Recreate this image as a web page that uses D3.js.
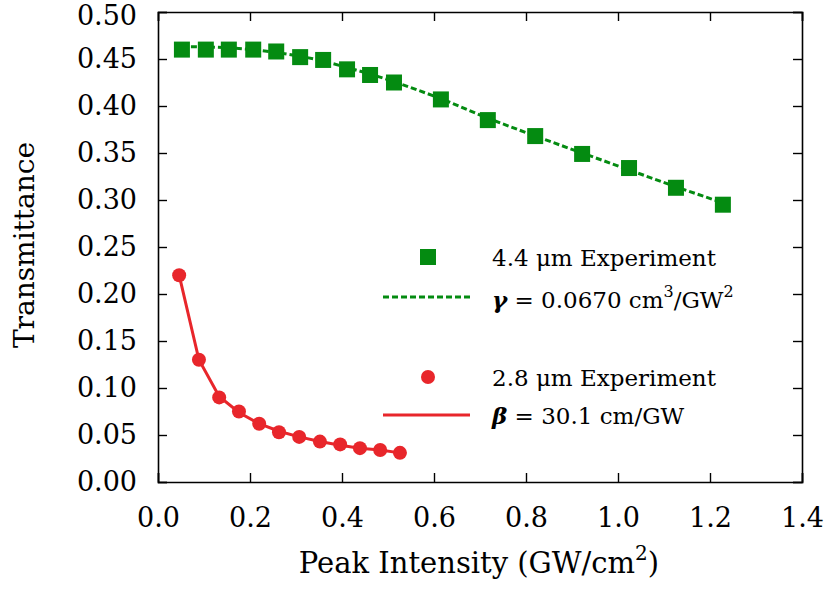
<!DOCTYPE html>
<html>
<head>
<meta charset="utf-8">
<script src="https://cdn.jsdelivr.net/npm/d3@7"></script>
<style>
  body { margin: 0; background: #fff; }
  svg text { font-family: "DejaVu Serif", "Liberation Serif", serif; fill: #000; }
</style>
</head>
<body>
<svg id="chart" width="827" height="590"></svg>
<script>
// 4.4 um experiment (green squares) and its 3PA fit
const greenX = [0.052, 0.104, 0.154, 0.207, 0.257, 0.309, 0.359, 0.411, 0.461, 0.513, 0.615, 0.717, 0.820, 0.922, 1.024, 1.126, 1.228];
const greenY = [0.460, 0.460, 0.460, 0.460, 0.458, 0.452, 0.449, 0.439, 0.433, 0.425, 0.407, 0.385, 0.368, 0.349, 0.334, 0.313, 0.295];
const greenFitY = [0.463, 0.463, 0.462, 0.460, 0.457, 0.453, 0.448, 0.441, 0.434, 0.426, 0.408, 0.387, 0.368, 0.350, 0.332, 0.314, 0.297];

// 2.8 um experiment (red circles) and its 2PA fit
const redX = [0.046, 0.089, 0.133, 0.176, 0.220, 0.263, 0.307, 0.352, 0.396, 0.439, 0.483, 0.526];
const redY = [0.220, 0.130, 0.090, 0.075, 0.062, 0.053, 0.048, 0.043, 0.040, 0.036, 0.034, 0.031];
const redFitY = [0.220, 0.130, 0.091, 0.074, 0.062, 0.054, 0.048, 0.043, 0.039, 0.036, 0.034, 0.031];

const xTicks = [0, 0.2, 0.4, 0.6, 0.8, 1.0, 1.2, 1.4];
const yTicks = [0, 0.05, 0.10, 0.15, 0.20, 0.25, 0.30, 0.35, 0.40, 0.45, 0.50];

const green = "#048b11";
const red = "#e8262b";
const serif = '"DejaVu Serif", "Liberation Serif", serif';

const mLeft = 158, mRight = 802, mTop = 12, mBottom = 482;
const svg = d3.select("#chart");

const x = d3.scaleLinear().domain([0, 1.4]).range([mLeft, mRight]);
const y = d3.scaleLinear().domain([0, 0.5]).range([mBottom, mTop]);

// axes: ticks point inward on all four sides
const tick = 9;
svg.append("g")
  .attr("transform", "translate(0," + mBottom + ")")
  .call(d3.axisBottom(x).tickValues(xTicks).tickFormat(d3.format(".1f")).tickSize(-tick).tickPadding(26));
svg.append("g")
  .attr("transform", "translate(0," + mTop + ")")
  .call(d3.axisTop(x).tickValues(xTicks).tickFormat("").tickSize(-tick));
const yAxis = svg.append("g")
  .attr("transform", "translate(" + mLeft + ",0)")
  .call(d3.axisLeft(y).tickValues(yTicks).tickFormat(d3.format(".2f")).tickSize(-tick).tickPadding(21));
svg.append("g")
  .attr("transform", "translate(" + mRight + ",0)")
  .call(d3.axisRight(y).tickValues(yTicks).tickFormat("").tickSize(-tick));

svg.selectAll("g").attr("font-family", serif);
svg.selectAll(".domain").attr("stroke", "#000").attr("stroke-width", 1.6);
svg.selectAll(".tick line").attr("stroke", "#000").attr("stroke-width", 1.4);
svg.selectAll(".tick text").style("font-size", "27px").style("font-family", serif);
// top label sits a little lower so it stays inside the page
yAxis.selectAll(".tick text").filter(d => d === 0.5).attr("dy", "0.48em");

// fit lines
const line = d3.line().x(d => x(d[0])).y(d => y(d[1]));
svg.append("path")
  .datum(greenX.map((v, i) => [v, greenFitY[i]]))
  .attr("d", line)
  .attr("fill", "none").attr("stroke", green).attr("stroke-width", 3)
  .attr("stroke-dasharray", "6,3");
svg.append("path")
  .datum(redX.map((v, i) => [v, redFitY[i]]))
  .attr("d", line)
  .attr("fill", "none").attr("stroke", red).attr("stroke-width", 3);

// data points
const sq = 16;
svg.append("g").selectAll("rect")
  .data(greenX.map((v, i) => [v, greenY[i]]))
  .enter().append("rect")
  .attr("x", d => x(d[0]) - sq / 2)
  .attr("y", d => y(d[1]) - sq / 2)
  .attr("width", sq).attr("height", sq)
  .attr("fill", green);
svg.append("g").selectAll("circle")
  .data(redX.map((v, i) => [v, redY[i]]))
  .enter().append("circle")
  .attr("cx", d => x(d[0]))
  .attr("cy", d => y(d[1]))
  .attr("r", 7)
  .attr("fill", red);

// legend
const lg = svg.append("g").style("font-size", "23px").style("font-family", serif);
lg.append("rect").attr("x", 428 - sq / 2).attr("y", 257 - sq / 2).attr("width", sq).attr("height", sq).attr("fill", green);
lg.append("text").attr("x", 492).attr("y", 266).text("4.4 μm Experiment");
lg.append("line").attr("x1", 383).attr("x2", 470).attr("y1", 297).attr("y2", 297)
  .attr("stroke", green).attr("stroke-width", 3).attr("stroke-dasharray", "6,3");
const gt = lg.append("text").attr("x", 492).attr("y", 308);
gt.append("tspan").style("font-style", "italic").style("font-weight", "bold").text("γ");
gt.append("tspan").text(" = 0.0670 cm");
gt.append("tspan").attr("dy", -11).style("font-size", "16px").text("3");
gt.append("tspan").attr("dy", 11).text("/GW");
gt.append("tspan").attr("dy", -11).style("font-size", "16px").text("2");

lg.append("circle").attr("cx", 428).attr("cy", 377).attr("r", 7).attr("fill", red);
lg.append("text").attr("x", 492).attr("y", 386).text("2.8 μm Experiment");
lg.append("line").attr("x1", 383).attr("x2", 470).attr("y1", 415).attr("y2", 415)
  .attr("stroke", red).attr("stroke-width", 3);
const bt = lg.append("text").attr("x", 492).attr("y", 424);
bt.append("tspan").style("font-style", "italic").style("font-weight", "bold").text("β");
bt.append("tspan").text(" = 30.1 cm/GW");

// axis titles
const xt = svg.append("text").attr("x", 479).attr("y", 573)
  .attr("text-anchor", "middle").style("font-size", "29px").style("font-family", serif);
xt.append("tspan").text("Peak Intensity (GW/cm");
xt.append("tspan").attr("dy", -13).style("font-size", "20px").text("2");
xt.append("tspan").attr("dy", 13).text(")");

svg.append("text")
  .attr("transform", "translate(34,245) rotate(-90)")
  .attr("text-anchor", "middle").style("font-size", "28px").style("font-family", serif)
  .text("Transmittance");
</script>
</body>
</html>
